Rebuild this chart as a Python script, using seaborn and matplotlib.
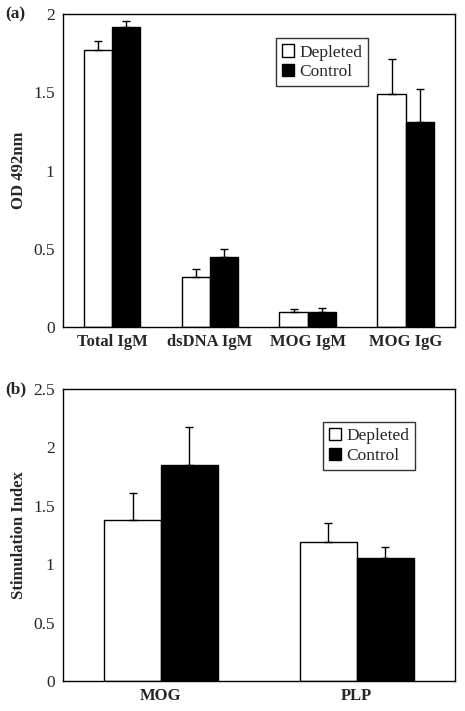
import matplotlib
matplotlib.use("Agg")
import matplotlib.pyplot as plt
import seaborn as sns
import pandas as pd
from matplotlib.ticker import FixedLocator, NullFormatter

# panel (a): antibody ELISA
groups_a = ["Total IgM", "dsDNA IgM", "MOG IgM", "MOG IgG"]
depleted_a = [1.77, 0.32, 0.096, 1.49]
depleted_a_err = [0.06, 0.05, 0.017, 0.225]
control_a = [1.917, 0.445, 0.096, 1.312]
control_a_err = [0.04, 0.052, 0.024, 0.207]

# panel (b): proliferation
groups_b = ["MOG", "PLP"]
depleted_b = [1.375, 1.19]
depleted_b_err = [0.236, 0.166]
control_b = [1.846, 1.054]
control_b_err = [0.331, 0.092]

series = ["Depleted", "Control"]

sns.set_theme(style="white")
plt.rcParams["font.family"] = ["Liberation Serif", "DejaVu Serif"]
plt.rcParams["font.size"] = 11


def make_df(groups, dep, ctl):
    rows = []
    for g, v in zip(groups, dep):
        rows.append({"group": g, "series": "Depleted", "value": v})
    for g, v in zip(groups, ctl):
        rows.append({"group": g, "series": "Control", "value": v})
    return pd.DataFrame(rows)


def draw_panel(ax, groups, dep, dep_err, ctl, ctl_err, ylim, yticks, ylabel, tag, legend_loc):
    df = make_df(groups, dep, ctl)
    sns.barplot(data=df, x="group", y="value", hue="series", hue_order=series,
                order=groups, palette=["white", "black"], edgecolor="black",
                linewidth=1, width=0.58, errorbar=None, ax=ax)

    # one-sided error bars on top of each bar
    for cont, errs in zip(ax.containers, [dep_err, ctl_err]):
        xs = [p.get_x() + p.get_width() / 2 for p in cont.patches]
        ys = [p.get_height() for p in cont.patches]
        ax.errorbar(xs, ys, yerr=[[0] * len(errs), errs], fmt="none",
                    ecolor="black", elinewidth=1, capsize=3, capthick=1)

    ax.set_ylim(*ylim)
    ax.set_xlim(-0.5, len(groups) - 0.5)
    ax.set_yticks(yticks)
    ax.set_yticklabels([f"{t:g}" for t in yticks], fontsize=12.5)
    ax.tick_params(axis="y", direction="out", length=4, width=1, color="black", pad=2)

    # x ticks sit between groups, labels at group centres
    ax.xaxis.set_major_locator(FixedLocator([i + 0.5 for i in range(len(groups) - 1)]))
    ax.xaxis.set_major_formatter(NullFormatter())
    ax.xaxis.set_minor_locator(FixedLocator(list(range(len(groups)))))
    ax.set_xticklabels(groups, minor=True, fontsize=12, fontweight="bold")
    ax.tick_params(axis="x", which="major", direction="in", length=6, width=1, color="black")
    ax.tick_params(axis="x", which="minor", length=0, pad=5)
    ax.set_xlabel("")
    ax.set_ylabel(ylabel, fontsize=12, fontweight="bold", labelpad=4)

    for s in ax.spines.values():
        s.set_visible(True)
        s.set_color("black")
        s.set_linewidth(1)

    ax.text(-0.148, 1.0, tag, transform=ax.transAxes, fontsize=12.5,
            fontweight="bold", ha="left", va="center")

    leg = ax.legend(loc="upper left", bbox_to_anchor=legend_loc, borderaxespad=0,
                    frameon=True, fancybox=False, edgecolor="black", fontsize=12.5,
                    handlelength=0.7, handleheight=0.7, handletextpad=0.3,
                    borderpad=0.35, labelspacing=0.2)
    leg.get_frame().set_linewidth(1)


fig = plt.figure(figsize=(4.65, 7.11), dpi=100)
ax_a = fig.add_axes([0.1355, 0.540, 0.8425, 0.440])
ax_b = fig.add_axes([0.1355, 0.042, 0.8425, 0.411])

draw_panel(ax_a, groups_a, depleted_a, depleted_a_err, control_a, control_a_err,
           (0, 2), [0, 0.5, 1, 1.5, 2], "OD 492nm", "(a)", (0.543, 0.923))
draw_panel(ax_b, groups_b, depleted_b, depleted_b_err, control_b, control_b_err,
           (0, 2.5), [0, 0.5, 1, 1.5, 2, 2.5], "Stimulation Index", "(b)", (0.663, 0.887))

fig.savefig("out.png", dpi=100)
